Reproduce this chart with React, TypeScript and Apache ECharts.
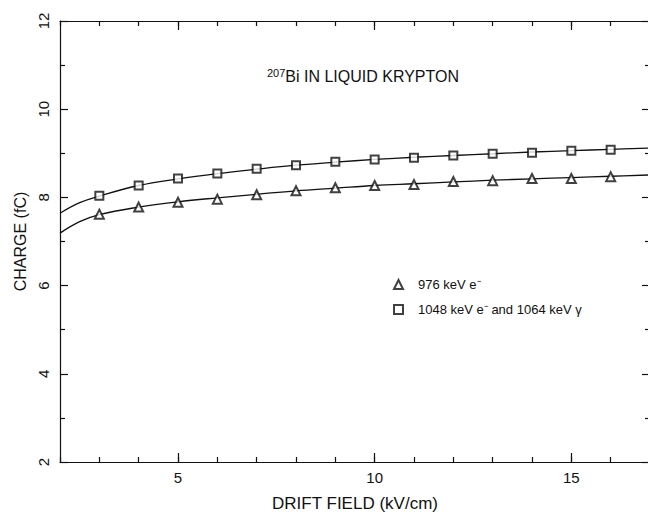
import React, { useEffect, useRef } from "react";
import * as echarts from "echarts";

const fieldPoints = [3, 4, 5, 6, 7, 8, 9, 10, 11, 12, 13, 14, 15, 16];
const charge976 = [7.62, 7.78, 7.89, 7.96, 8.06, 8.15, 8.22, 8.27, 8.29, 8.36, 8.38, 8.43, 8.43, 8.47];
const charge1048 = [8.04, 8.27, 8.43, 8.54, 8.65, 8.73, 8.81, 8.86, 8.9, 8.95, 8.99, 9.01, 9.06, 9.08];

const fitField = [2, 2.5, 3, 4, 5, 6, 7, 8, 9, 10, 11, 12, 13, 14, 15, 16, 17];
const fit976 = [7.19, 7.45, 7.61, 7.78, 7.9, 7.99, 8.07, 8.15, 8.21, 8.27, 8.31, 8.35, 8.39, 8.42, 8.45, 8.48, 8.51];
const fit1048 = [7.64, 7.88, 8.03, 8.27, 8.42, 8.54, 8.64, 8.73, 8.8, 8.86, 8.91, 8.95, 8.99, 9.03, 9.06, 9.09, 9.12];

const xMajorTicks = [5, 10, 15];

const legendNames = ["976 keV e\u207B", "1048 keV e\u207B and 1064 keV \u03B3"];

const FONT = "'Liberation Sans', Arial, sans-serif";
const INK = "#111";

export default function App() {
  const ref = useRef<HTMLDivElement>(null);
  useEffect(() => {
    if (!ref.current) return;
    const chart = echarts.init(ref.current, undefined, { renderer: "svg" });
    const pair = (xs: number[], ys: number[]) => xs.map((x, i) => [x, ys[i]]);
    const xBase = (pos: "bottom" | "top", showLabel: boolean, name?: string) => ({
      type: "value",
      position: pos,
      min: 2,
      max: 17,
      interval: 1,
      name: name || "",
      nameLocation: "middle",
      nameGap: 33,
      nameTextStyle: { fontSize: 17, color: INK, fontFamily: FONT },
      axisLine: { show: true, onZero: false, lineStyle: { color: INK, width: 1.2 } },
      axisTick: { show: true, inside: true, length: 5, lineStyle: { color: INK, width: 1.2 } },
      axisLabel: {
        show: showLabel,
        customValues: xMajorTicks,
        fontSize: 15,
        color: INK,
        fontFamily: FONT,
        margin: 8,
      },
      splitLine: { show: false },
    });
    const xMajor = (pos: "bottom" | "top") => ({
      type: "value",
      position: pos,
      min: 2,
      max: 17,
      interval: 1,
      axisLine: { show: false, onZero: false },
      axisTick: { show: true, inside: true, length: 9, customValues: xMajorTicks, lineStyle: { color: INK, width: 1.2 } },
      axisLabel: { show: false },
      splitLine: { show: false },
    });
    const yBase = (pos: "left" | "right", showLabel: boolean, name?: string) => ({
      type: "value",
      position: pos,
      min: 2,
      max: 12,
      interval: 2,
      name: name || "",
      nameLocation: "middle",
      nameGap: 32,
      nameTextStyle: { fontSize: 16, color: INK, fontFamily: FONT },
      axisLine: { show: true, onZero: false, lineStyle: { color: INK, width: 1.2 } },
      axisTick: { show: true, inside: true, length: 8, lineStyle: { color: INK, width: 1.2 } },
      minorTick: { show: true, splitNumber: 2, length: 5, lineStyle: { color: INK, width: 1.2 } },
      axisLabel: { show: showLabel, rotate: 90, fontSize: 15, color: INK, fontFamily: FONT, margin: 9 },
      splitLine: { show: false },
      minorSplitLine: { show: false },
    });
    chart.setOption({
      animation: false,
      backgroundColor: "#fff",
      textStyle: { fontFamily: FONT },
      grid: { left: 60, top: 21, right: -2, bottom: 52, outerBoundsMode: "none", containLabel: false },
      title: {
        text: "{sup|207}{n|Bi IN LIQUID KRYPTON}",
        left: 262,
        top: 62,
        textStyle: {
          fontWeight: "normal",
          rich: {
            sup: { fontSize: 11, fontWeight: "normal", color: INK, fontFamily: FONT, verticalAlign: "top", padding: [0, 0, 8, 0] },
            n: { fontSize: 16, fontWeight: "normal", color: INK, fontFamily: FONT },
          },
        },
      },
      legend: {
        orient: "vertical",
        left: 388,
        top: 273,
        itemGap: 12,
        itemWidth: 9,
        itemHeight: 9,
        data: legendNames,
        textStyle: { fontSize: 13, color: INK, fontFamily: FONT, padding: [0, 0, 0, 10] },
      },
      xAxis: [
        xBase("bottom", true, "DRIFT FIELD (kV/cm)"),
        xBase("top", false),
        xMajor("bottom"),
        xMajor("top"),
      ],
      yAxis: [yBase("left", true, "CHARGE (fC)"), yBase("right", false)],
      series: [
        {
          type: "line",
          data: pair(fitField, fit976),
          smooth: 0.4,
          showSymbol: false,
          symbol: "none",
          lineStyle: { color: INK, width: 1.3 },
          silent: true,
        },
        {
          type: "line",
          data: pair(fitField, fit1048),
          smooth: 0.4,
          showSymbol: false,
          symbol: "none",
          lineStyle: { color: INK, width: 1.3 },
          silent: true,
        },
        {
          name: legendNames[0],
          type: "scatter",
          data: pair(fieldPoints, charge976),
          symbol: "emptyTriangle",
          symbolSize: 9,
          itemStyle: { color: INK, borderColor: INK, borderWidth: 1.2 },
          z: 5,
        },
        {
          name: legendNames[1],
          type: "scatter",
          data: pair(fieldPoints, charge1048),
          symbol: "emptyRect",
          symbolSize: 8,
          itemStyle: { color: INK, borderColor: INK, borderWidth: 1.2 },
          z: 5,
        },
      ],
    });
    return () => chart.dispose();
  }, []);
  return <div ref={ref} style={{ position: "fixed", left: 0, top: 0, width: 648, height: 514 }} />;
}
